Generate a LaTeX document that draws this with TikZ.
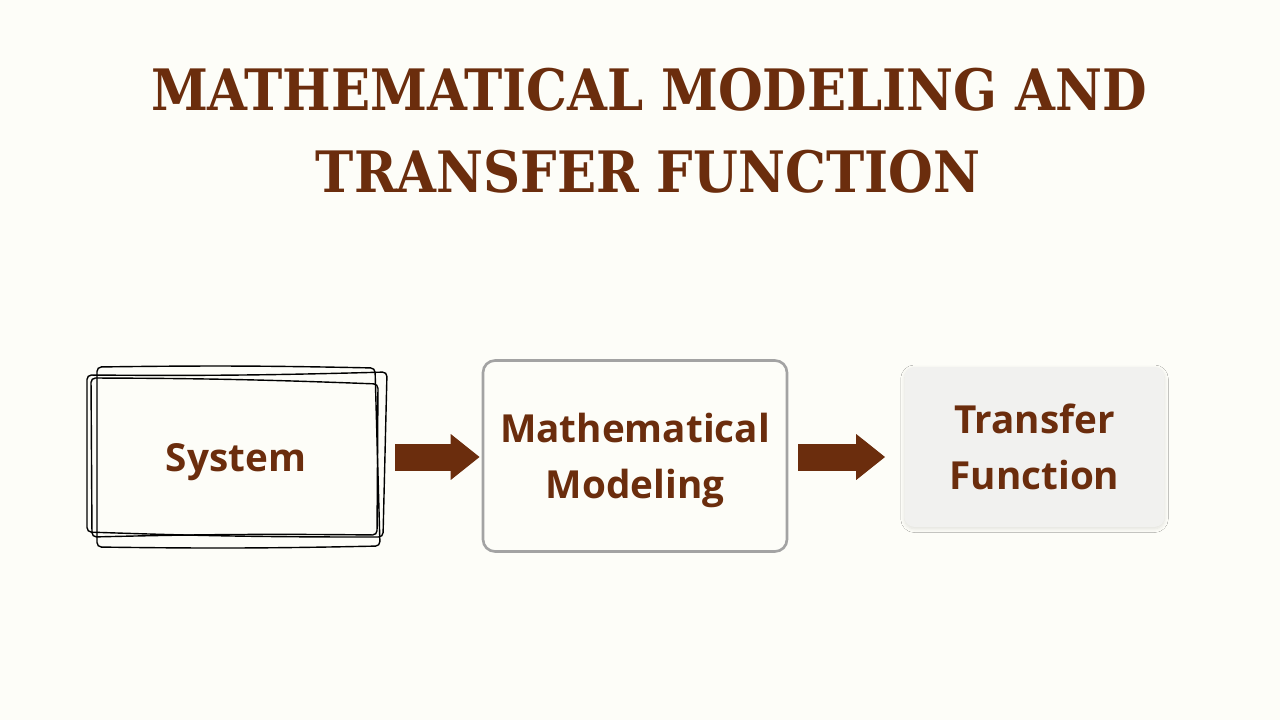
\documentclass[tikz,border=0pt]{standalone}
\usepackage{fontspec}
\setmainfont{Open Sans}
\newfontfamily\titlefont{DejaVu Serif Condensed}
\usetikzlibrary{arrows.meta,positioning,shadows.blur}
\definecolor{bgcream}{HTML}{FDFDF8}
\definecolor{brownink}{HTML}{6B2D0D}
\definecolor{boxgray}{HTML}{A3A3A3}
\definecolor{panelgray}{HTML}{F1F1EF}

\tikzset{
  heading/.style={text=brownink,font=\titlefont\bfseries\fontsize{32.5}{38}\selectfont},
  blocktext/.style={text=brownink,font=\bfseries\fontsize{22}{32}\selectfont,align=center},
  flowarrow/.style={draw=brownink,line width=0.54cm,-{Triangle[length=0.58cm,width=0.88cm]}},
  sketch/.style={draw=black,line width=0.8pt,rounded corners=2.5pt},
}

\begin{document}
\begin{tikzpicture}[x=0.02cm,y=-0.02cm]
\fill[bgcream] (0,0) rectangle (1280,720);
\useasboundingbox (0,0) rectangle (1280,720);

% title
\node[heading] (title1) at (649,90) {MATHEMATICAL MODELING AND};
\node[heading] (title2) at (648,172) {TRANSFER FUNCTION};

% blocks
\node[blocktext,text depth=0pt,minimum width=6.08cm,minimum height=3.5cm] (sys) at (236,457) {System};
\node[blocktext,text depth=0pt,draw=boxgray,line width=1.5pt,rounded corners=0.24cm,
  minimum width=6.08cm,minimum height=3.82cm] (model) at (635,456) {Mathematical\\Modeling};
\node[blocktext,fill=panelgray,rounded corners=0.2cm,
  blur shadow={shadow xshift=0pt,shadow yshift=-1pt,shadow opacity=12,shadow blur steps=6},
  minimum width=5.2cm,minimum height=3.2cm] (tf) at (1034.5,447) {Transfer\\Function};

% hand drawn frame round the system
\draw[sketch] (97,367) to[bend left=1] (375,368) -- (380,546) to[bend left=1] (97,547) -- cycle;
\draw[sketch] (87,375) to[bend right=1] (387,372) -- (383,537) to[bend left=1] (87,532) -- cycle;
\draw[sketch] (91,378) to[bend left=1] (378,384) -- (377,535) to[bend right=1] (92,537) -- cycle;

% arrows
\draw[flowarrow,shorten <=0.14cm,shorten >=0.04cm] (sys.east) -- (sys.east -| model.west);
\draw[flowarrow,shorten <=0.2cm,shorten >=0.38cm] (model.east |- sys.east) -- (tf.west |- sys.east);
\end{tikzpicture}
\end{document}
